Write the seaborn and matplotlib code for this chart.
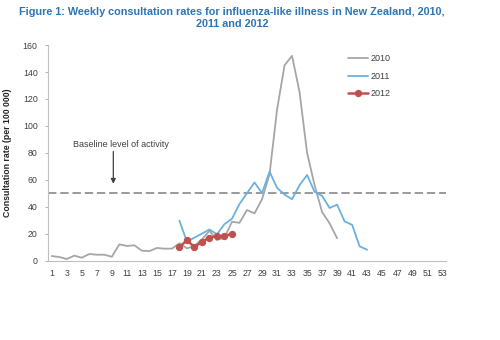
import matplotlib
matplotlib.use("Agg")
import matplotlib.pyplot as plt
import seaborn as sns
import pandas as pd

# ---- data ----
weeks_2010 = list(range(1, 40))
rate_2010 = [3.3, 2.6, 1.1, 3.6, 2.1, 4.8, 4.3, 4.3, 2.8, 12.0,
             10.8, 11.3, 7.3, 7.0, 9.3, 8.8, 8.8, 12.8, 9.0, 10.8,
             15.7, 22.0, 15.2, 17.0, 28.8, 28.0, 37.5, 35.0, 45.5, 64.0,
             112.0, 145.0, 152.0, 125.0, 80.0, 56.0, 36.0, 27.6, 16.5]
weeks_2011 = list(range(18, 44))
rate_2011 = [29.6, 14.0, 17.0, 20.0, 23.0, 19.5, 27.0, 31.0, 42.0, 50.0,
             58.0, 50.0, 66.0, 54.0, 49.0, 45.5, 56.0, 63.5, 51.0, 48.0,
             39.0, 41.5, 29.0, 26.5, 10.5, 8.0]
weeks_2012 = list(range(18, 26))
rate_2012 = [10.0, 15.0, 10.0, 14.0, 17.0, 18.0, 18.0, 20.0]
baseline = 50
week_labels = list(range(1, 54, 2))
y_ticks = [0, 20, 40, 60, 80, 100, 120, 140, 160]

title = ("Figure 1: Weekly consultation rates for influenza-like illness in New Zealand, 2010,\n"
         "2011 and 2012")
ylabel = "Consultation rate (per 100 000)"
annotation = "Baseline level of activity"

sns.set_style("white")
plt.rcParams['font.family'] = ['Liberation Sans', 'DejaVu Sans']

fig = plt.figure(figsize=(5, 3.4), dpi=100)
ax = fig.add_axes([48 / 500, 1 - 260.5 / 340, 398 / 500, 215.4 / 340])

df10 = pd.DataFrame({"week": weeks_2010, "rate": rate_2010})
df11 = pd.DataFrame({"week": weeks_2011, "rate": rate_2011})
df12 = pd.DataFrame({"week": weeks_2012, "rate": rate_2012})

sns.lineplot(data=df10, x="week", y="rate", ax=ax, color="#A6A6A6", lw=1.3, label="2010")
sns.lineplot(data=df11, x="week", y="rate", ax=ax, color="#6AB2DE", lw=1.3, label="2011")
sns.lineplot(data=df12, x="week", y="rate", ax=ax, color="#C0504D", lw=1.8,
             marker="o", markersize=4.5, markeredgecolor="#C0504D", label="2012")

ax.axhline(baseline, color="#7F7F7F", lw=1.1, ls=(0, (5.5, 2.5)), zorder=1)

ax.annotate("", xy=(9.2, 57), xytext=(9.2, 81),
            arrowprops=dict(arrowstyle="-|>", color="#404040", lw=0.9,
                            mutation_scale=7, shrinkA=0, shrinkB=0))
ax.text(3.8, 86, annotation, fontsize=6.5, color="#404040", ha="left", va="center")

ax.set_xlim(0.5, 53.5)
ax.set_ylim(0, 160)
ax.set_xticks(week_labels)
ax.set_xticklabels([str(w) for w in week_labels])
ax.set_xticks([w + 0.5 for w in range(0, 54)], minor=True)
ax.tick_params(axis="x", which="major", length=0, labelsize=6.3, labelcolor="#404040", pad=6)
ax.tick_params(axis="x", which="minor", length=2.5, color="#A6A6A6", width=0.6, direction="out")
ax.set_yticks(y_ticks)
ax.tick_params(axis="y", length=2.5, color="#A6A6A6", width=0.6, direction="out",
               labelsize=6.3, labelcolor="#404040", pad=5)
ax.tick_params(bottom=True, left=True)

for s in ["top", "right"]:
    ax.spines[s].set_visible(False)
for s in ["left", "bottom"]:
    ax.spines[s].set_color("#BFBFBF")
    ax.spines[s].set_linewidth(0.8)

ax.set_xlabel("")
ax.set_ylabel(ylabel, fontsize=6.3, fontweight="bold", color="#262626", labelpad=8)

leg = ax.legend(loc="upper left", bbox_to_anchor=(340 / 500, 1 - 46 / 340),
                bbox_transform=fig.transFigure, frameon=False, fontsize=6.5,
                handlelength=2.2, labelspacing=0.95, handletextpad=0.3)
for t in leg.get_texts():
    t.set_color("#404040")

fig.text(232 / 500, 1 - 7 / 340, title, ha="center", va="top", fontsize=7.8,
         fontweight="bold", color="#2E75B6", linespacing=1.3)

fig.savefig("out.png", dpi=100)
